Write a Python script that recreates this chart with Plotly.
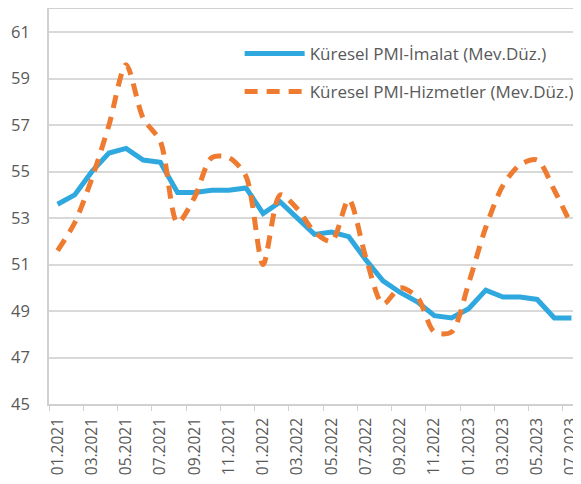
import plotly.graph_objects as go

months = [f"{m:02d}.{y}" for y in (2021, 2022, 2023) for m in range(1, 13)][:31]

imalat = [53.6, 54.0, 55.0, 55.8, 56.0, 55.5, 55.4, 54.1, 54.1, 54.2, 54.2, 54.3,
          53.2, 53.7, 53.0, 52.3, 52.4, 52.2, 51.2, 50.3, 49.8, 49.4, 48.8, 48.7,
          49.1, 49.9, 49.6, 49.6, 49.5, 48.7, 48.7]
hizmet = [51.6, 52.8, 54.7, 57.0, 59.6, 57.3, 56.3, 52.8, 53.9, 55.6, 55.6, 54.8,
          51.0, 54.0, 53.4, 52.4, 52.0, 53.8, 51.3, 49.3, 50.0, 49.6, 48.1, 48.1,
          50.2, 52.6, 54.4, 55.3, 55.5, 54.2, 52.7]

names = ["Küresel PMI-İmalat (Mev.Düz.)", "Küresel PMI-Hizmetler (Mev.Düz.)"]

FONT = "Open Sans"
GRAY = "#595959"

fig = go.Figure()
fig.add_trace(go.Scatter(x=months, y=imalat, name=names[0], mode="lines",
                         line=dict(color="#2FA8DF", width=5), legendgroup="a"))
fig.add_trace(go.Scatter(x=months, y=hizmet, name=names[1], mode="lines",
                         line=dict(color="#EE7B30", width=5, dash="13px,9px",
                                   shape="spline", smoothing=0.8),
                         legendgroup="b"))

# the page body adds an 8px offset, so the figure is sized to fill the rest
fig.update_layout(
    width=573, height=476,
    margin=dict(l=41, r=1, t=1, b=80, autoexpand=False),
    paper_bgcolor="white", plot_bgcolor="white",
    font=dict(family=FONT, color=GRAY, size=16.5),
    showlegend=True,
    legend=dict(x=0.359, y=0.932, xanchor="left", yanchor="top",
                bgcolor="rgba(0,0,0,0)", font=dict(size=17, color=GRAY),
                tracegroupgap=13, itemwidth=60),
)
fig.update_xaxes(type="category", range=[-0.5, 30.5], dtick=2, tickson="boundaries",
                 ticks="outside", ticklen=5, tickcolor="#D0D0D0", tickangle=-90,
                 ticklabelstandoff=6,
                 showgrid=False, showline=True, linecolor="#D0D0D0", linewidth=1.5,
                 mirror=True, automargin=False, tickfont=dict(size=15.5, color=GRAY))
fig.update_yaxes(range=[45, 62], tick0=45, dtick=2, showgrid=True,
                 gridcolor="#D9D9D9", gridwidth=1.5, showline=True,
                 linecolor="#D0D0D0", linewidth=1.5, mirror=True, zeroline=False,
                 ticks="", ticklabelstandoff=14, automargin=False,
                 tickfont=dict(size=16.5, color=GRAY))

fig.write_html("out.html")
